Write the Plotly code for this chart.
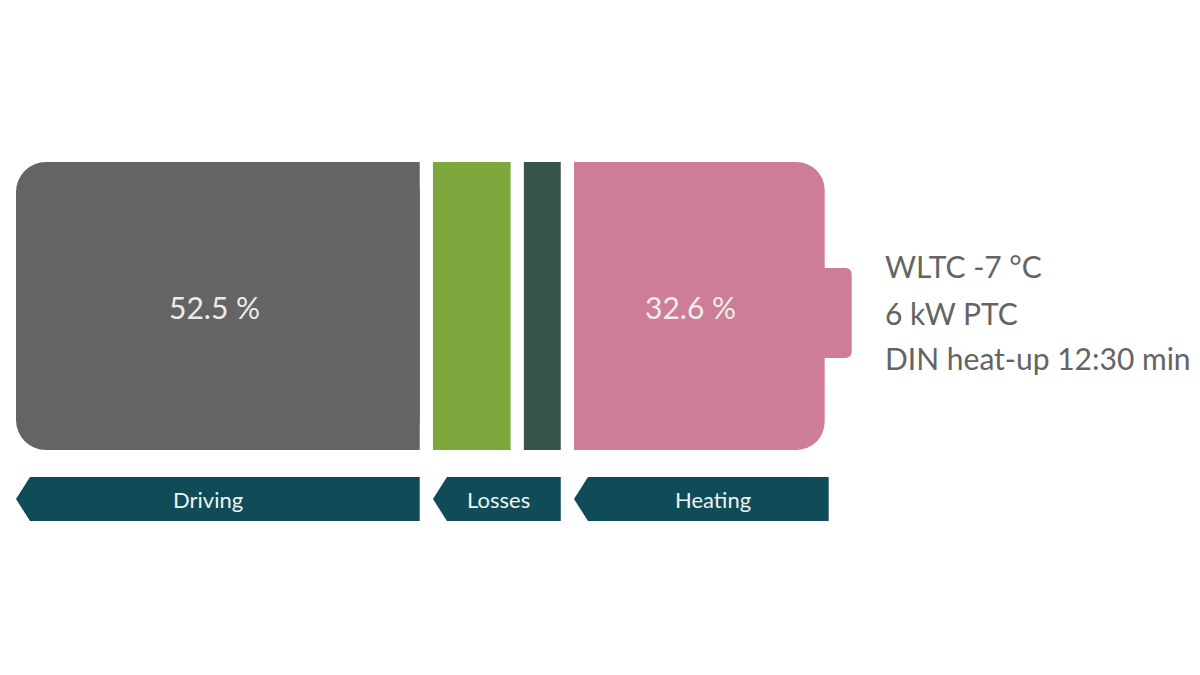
import plotly.graph_objects as go

# ---- data ----
segments = ["Driving", "Losses (a)", "Losses (b)", "Heating"]
shares = [52.5, 10.1, 4.8, 32.6]          # % of energy
seg_colors = ["#646464", "#7da73c", "#37544b", "#cd7d95"]
pct_labels = ["52.5 %", "", "", "32.6 %"]
groups = ["Driving", "Losses", "Heating"]
group_members = [[0], [1, 2], [3]]
info_lines = ["WLTC -7 °C", "6 kW PTC", "DIN heat-up 12:30 min"]

# ---- layout constants (pixels mapped to axis units; page body has 8px margin) ----
K = 7.69            # px per percent unit
X0_PX = 8
OFF = 8
GAP = 1.72
BAR_Y, BAR_H = 306 - OFF, 288
LAB_Y, LAB_H = 499 - OFF, 44
TIP = 14 / K
FONT = "Lato"
RAD = 30            # outer corner radius, px
SQ = 40 / K         # how far the square-cornered cover stays away from rounded end

starts, ends = [], []
pos = 0.0
for i, v in enumerate(shares):
    if i > 0:
        pos += GAP
    starts.append(pos)
    pos += v
    ends.append(pos)

fig = go.Figure()


def add_bar(y, base, length, h, color, rad=0):
    fig.add_trace(go.Bar(
        y=[y], x=[length], base=[base], orientation="h", width=[h],
        marker=dict(color=color, cornerradius=rad, line=dict(width=0)),
        hoverinfo="skip", showlegend=False))


last = len(shares) - 1
for i, v in enumerate(shares):
    if i == 0:
        # rounded bar, then square cover on the inner (right) side
        add_bar(BAR_Y, starts[i], v, BAR_H, seg_colors[i], RAD)
        add_bar(BAR_Y, starts[i] + SQ, v - SQ, BAR_H, seg_colors[i])
    elif i == last:
        # battery terminal nub first (under the body)
        nub_w = (852 - 825) / K
        add_bar(313 - OFF, ends[i] - 2, nub_w + 2, 90, seg_colors[i], 6)
        add_bar(BAR_Y, starts[i], v, BAR_H, seg_colors[i], RAD - 2)
        add_bar(BAR_Y, starts[i], v - SQ, BAR_H, seg_colors[i])
    else:
        add_bar(BAR_Y, starts[i], v, BAR_H, seg_colors[i])

# percentage annotations
pct_shift = [-3, 0, 0, -9]
for i, t in enumerate(pct_labels):
    if t:
        fig.add_annotation(x=(starts[i] + ends[i]) / 2, y=BAR_Y + 1, text=t,
                           showarrow=False, xshift=pct_shift[i],
                           font=dict(family=FONT, size=30, color="#ececec"))

# group labels (left-pointing arrows)
shapes = []
lab_shift = [-10, 2, 12]
for g, (gname, members) in enumerate(zip(groups, group_members)):
    x_a = starts[members[0]]
    x_b = ends[members[-1]] + (4 / K if g == len(groups) - 1 else 0)
    yt, yb = LAB_Y - LAB_H / 2, LAB_Y + LAB_H / 2
    path = (f"M {x_a},{LAB_Y} L {x_a + TIP},{yt} L {x_b},{yt} "
            f"L {x_b},{yb} L {x_a + TIP},{yb} Z")
    shapes.append(dict(type="path", path=path, xref="x", yref="y",
                       fillcolor="#0f4c57", line=dict(width=0), layer="above"))
    fig.add_annotation(x=(x_a + x_b) / 2, y=LAB_Y, text=gname, showarrow=False,
                       xshift=lab_shift[g],
                       font=dict(family=FONT, size=22, color="#eef3f3"))

# info text on the right
info_x = (883 - 16) / K
for j, line in enumerate(info_lines):
    fig.add_annotation(x=info_x, y=[266 - OFF, 313 - OFF, 358 - OFF][j], text=line,
                       showarrow=False, xanchor="left", yanchor="middle",
                       font=dict(family=FONT, size=30, color="#646464"))

fig.update_layout(
    width=1200, height=675, margin=dict(l=0, r=0, t=0, b=0),
    paper_bgcolor="white", plot_bgcolor="white",
    barmode="overlay", shapes=shapes, showlegend=False,
    xaxis=dict(range=[-X0_PX / K, (1200 - X0_PX) / K], visible=False, fixedrange=True),
    yaxis=dict(range=[675, 0], visible=False, fixedrange=True),
)

fig.write_html("out.html")
